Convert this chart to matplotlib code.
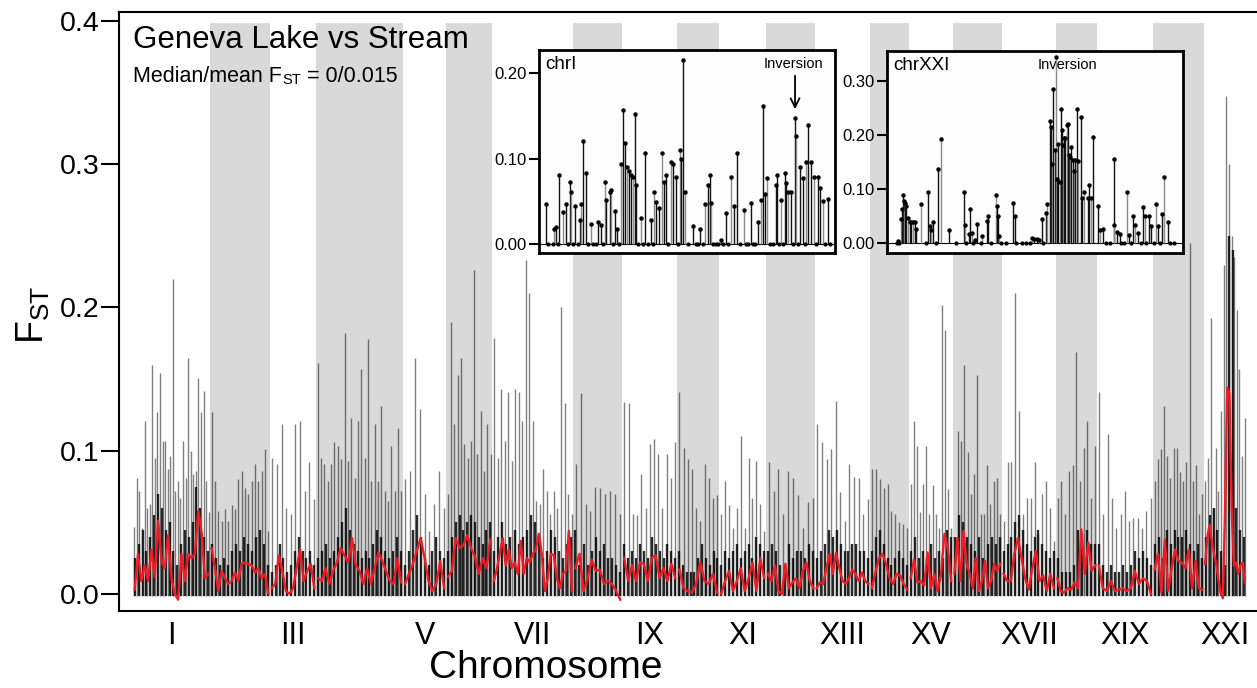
import numpy as np
import matplotlib
matplotlib.use("Agg")
import matplotlib.pyplot as plt

plt.rcParams['font.family'] = ['Liberation Sans', 'DejaVu Sans']

# ---------------- data ----------------
chrom_names = ['I', 'II', 'III', 'IV', 'V', 'VI', 'VII', 'VIII', 'IX', 'X', 'XI',
               'XII', 'XIII', 'XIV', 'XV', 'XVI', 'XVII', 'XVIII', 'XIX', 'XX', 'XXI']
chrom_len_mb = [27.7, 21.6, 16.6, 31.3, 15.5, 16.6, 29.2, 17.6, 19.8, 15.1, 16.9,
                17.6, 19.8, 14.0, 15.8, 17.6, 19.4, 14.8, 20.2, 18.4, 15.1]

# tall SNP spikes per chromosome (FST x 1000), in chromosome order
spikes_I = [47, 81, 72, 46, 121, 60, 63, 160, 95, 127, 154, 107, 107, 87, 96, 220, 72, 79, 67, 107, 81, 165, 100, 84, 86, 151, 127, 142, 79, 57]
spikes_II = [127, 79, 58, 51, 59, 51, 62, 59, 80, 86, 74, 70, 79, 91, 79, 86, 101, 44]
spikes_III = [95, 91, 119, 60, 56, 119, 121, 72, 92, 66]
spikes_IV = [161, 95, 91, 79, 91, 106, 103, 94, 182, 93, 123, 81, 121, 157, 95, 178, 79, 119, 79, 131, 72, 65, 103, 72, 116, 72]
spikes_V = [80, 86, 165, 129, 70, 44, 63, 86, 60]
spikes_VI = [70, 190, 119, 153, 165, 105, 95, 107, 226, 98, 128, 86, 119, 98]
spikes_VII = [179, 95, 143, 107, 141, 93, 143, 141, 121, 233, 210, 121, 65, 63, 87, 72, 56, 72, 60, 200, 133, 70, 56]
spikes_VIII = [91, 140, 63, 58, 75, 74, 70, 72, 70, 56]
spikes_IX = [134, 133, 56, 55, 84, 60, 105, 108, 98, 60, 98, 81, 106]
spikes_X = [141, 102, 94, 87, 60, 51, 91, 81, 67, 69]
spikes_XI = [56, 79, 62, 46, 60, 110, 46, 95, 67, 93, 63, 44]
spikes_XII = [92, 72, 87, 56, 86, 81, 69, 46, 64, 67]
spikes_XIII = [119, 106, 94, 101, 135, 71, 51, 91, 82, 81, 56, 66]
spikes_XIV = [87, 87, 80, 74, 77, 58, 56, 50, 49, 46]
spikes_XV = [77, 121, 103, 57, 77, 103, 56, 76, 56, 46, 202, 184, 73, 46]
spikes_XVI = [32, 114, 107, 160, 99, 70, 84, 153, 56, 56, 90, 63, 79, 81, 56]
spikes_XVII = [51, 92, 92, 210, 128, 56, 67, 67, 92, 42, 70, 79, 60, 37]
spikes_XVIII = [67, 79, 56, 86, 90, 169, 79, 102, 121, 67, 103]
spikes_XIX = [141, 56, 112, 67, 46, 56, 72, 51, 53, 53, 46, 58, 67]
spikes_XX = [79, 94, 101, 131, 96, 81, 102, 102, 85, 79, 92, 245, 79, 90, 56, 70]
spikes_XXI = [79, 95, 193, 60, 102, 72, 128, 230, 348, 300, 250, 235, 198, 157, 96, 123]

# dense low-FST mass per chromosome (FST x 1000)
body_I = [25, 35, 45, 30, 40, 55, 70, 60, 45, 50, 30, 20, 35, 45, 40, 50, 75, 60, 40, 30]
body_II = [35, 25, 20, 25, 20, 30, 35, 30, 40, 35, 30, 40, 45, 35, 20]
body_III = [15, 20, 35, 25, 15, 20, 30, 40, 30, 25, 30, 20]
body_IV = [25, 30, 35, 25, 30, 40, 50, 60, 45, 35, 30, 25, 30, 25, 35, 45, 40, 30, 25, 30, 40, 30]
body_V = [20, 30, 45, 55, 40, 25, 20, 30, 40, 30, 25]
body_VI = [30, 40, 50, 55, 45, 50, 55, 50, 40, 35, 45, 50]
body_VII = [30, 40, 50, 35, 40, 45, 35, 40, 45, 55, 50, 40, 25, 30, 45, 40, 30, 25, 35, 40]
body_VIII = [45, 20, 35, 20, 30, 40, 30, 35, 25, 25, 20, 15]
body_IX = [35, 25, 30, 25, 35, 30, 25, 40, 35, 30, 25, 35, 30, 25]
body_X = [30, 20, 15, 15, 15, 25, 35, 25, 20, 30, 25]
body_XI = [20, 30, 25, 30, 35, 25, 30, 35, 25, 40, 35, 30]
body_XII = [30, 35, 30, 20, 20, 35, 25, 30, 30, 25, 35, 30]
body_XIII = [25, 30, 35, 45, 40, 45, 35, 30, 30, 35, 35, 30, 30, 25]
body_XIV = [30, 40, 45, 35, 25, 20, 25, 30, 25, 20]
body_XV = [30, 40, 25, 30, 25, 35, 25, 30, 25, 45, 40]
body_XVI = [40, 55, 50, 40, 35, 30, 40, 25, 35, 40, 35, 40]
body_XVII = [30, 35, 40, 50, 55, 45, 35, 30, 40, 45, 35, 30, 25, 30]
body_XVIII = [25, 15, 15, 15, 20, 45, 35, 45, 35, 35]
body_XIX = [35, 20, 15, 20, 15, 15, 20, 15, 20, 30, 25, 30, 25, 20]
body_XX = [35, 40, 25, 45, 35, 45, 40, 40, 45, 35, 30, 35, 25]
body_XXI = [40, 55, 60, 45, 30, 20, 250, 240, 60, 45, 40]

# sliding-window mean FST per chromosome (FST x 1000)
mean_I = [3, 28, 9, 20, 9, 31, 12, 51, 23, 18, 41, 11, 0, -4, 28, 9, 28, 25, 28, 58, 43, 11, 14]
mean_II = [32, 18, 2, 16, 11, 7, 9, 15, 9, 21, 22, 21, 20, 15, 18, 11, 14, 0]
mean_III = [4, 7, 27, 16, 2, 0, 4, 18, 31, 9, 16, 21, 4]
mean_IV = [11, 9, 18, 7, 16, 22, 32, 27, 22, 39, 20, 16, 7, 18, 7, 18, 29, 23, 16, 9, 7, 25, 8]
mean_V = [7, 14, 21, 30, 39, 25, 9, 2, 7, 23, 4]
mean_VI = [12, 16, 39, 32, 34, 41, 32, 26, 14, 25, 18, 38]
mean_VII = [9, 17, 28, 39, 20, 31, 18, 22, 14, 37, 14, 25, 22, 28, 31, 42, 28, 2, 11, 28, 27, 11, 4, 14, 16, 44, 2]
mean_VIII = [18, 28, 2, 11, 24, 16, 17, 7, 9, 7, 2, -4]
mean_IX = [25, 9, 20, 9, 22, 21, 9, 25, 27, 11, 18, 9, 21, 11]
mean_X = [17, 4, 2, 1, 7, 22, 9, 7, 14, 1]
mean_XI = [0, 9, 16, 2, 9, 18, 2, 11, 22, 2, 25, 11]
mean_XII = [14, 9, 20, 2, 0, 21, 4, 8, 11, 4, 16, 22, 9, 4]
mean_XIII = [4, 8, 7, 18, 28, 14, 29, 18, 9, 7, 11, 17, 14, 9, 15, 9, 7]
mean_XIV = [4, 15, 25, 28, 21, 11, 7, 14, 13, 7, 3]
mean_XV = [11, 24, 8, 9, 6, 29, 4, 14, 2, 14, 42, 32, 9]
mean_XVI = [14, 39, 9, 44, 21, 14, 4, 25, 2, 9, 23, 4, 9, 21, 16, 21]
mean_XVII = [14, 9, 9, 28, 39, 25, 11, 3, 18, 30, 9, 13, 2, 14, 4]
mean_XVIII = [11, 2, 1, 4, 3, 8, 4, 45, 14, 36, 16, 20]
mean_XIX = [20, 4, 2, 9, 2, 3, 4, 2, 4, 16, 7, 11, 9, 0]
mean_XX = [17, 28, 1, 38, 2, 18, 31, 23, 22, 18, 31, 4, 23, 4, 3]
mean_XXI = [21, 40, 48, 37, 28, 21, 10, 1, -3, 56, 144, 140, 60, 20, 22, 14, 20, 22, 8]

spikes_all = [spikes_I, spikes_II, spikes_III, spikes_IV, spikes_V, spikes_VI, spikes_VII,
              spikes_VIII, spikes_IX, spikes_X, spikes_XI, spikes_XII, spikes_XIII, spikes_XIV,
              spikes_XV, spikes_XVI, spikes_XVII, spikes_XVIII, spikes_XIX, spikes_XX, spikes_XXI]
body_all = [body_I, body_II, body_III, body_IV, body_V, body_VI, body_VII, body_VIII, body_IX,
            body_X, body_XI, body_XII, body_XIII, body_XIV, body_XV, body_XVI, body_XVII,
            body_XVIII, body_XIX, body_XX, body_XXI]
mean_all = [mean_I, mean_II, mean_III, mean_IV, mean_V, mean_VI, mean_VII, mean_VIII, mean_IX,
            mean_X, mean_XI, mean_XII, mean_XIII, mean_XIV, mean_XV, mean_XVI, mean_XVII,
            mean_XVIII, mean_XIX, mean_XX, mean_XXI]

# inset chrI (position Mb, FST x 1000)
chr1_pos = [0.3, 1.1, 1.3, 1.6, 2.0, 2.3, 2.7, 2.8, 3.2, 3.7, 3.8, 4.0, 4.3, 4.8, 5.5, 5.8,
            6.2, 6.3, 6.7, 6.8, 7.2, 7.4, 7.8, 8.0, 8.2, 8.4, 8.6, 8.8, 9.0, 9.2, 9.3, 9.8,
            10.2, 10.8, 11.1, 11.3, 11.6, 11.9, 12.1, 12.3, 12.8, 13.0, 13.3, 13.7, 13.8, 14.0,
            14.2, 15.0, 15.7, 16.2, 16.5, 16.7, 16.8, 17.8, 18.3, 18.8, 19.1, 19.4, 20.1, 20.8,
            21.5, 21.8, 22.0, 22.2, 22.4, 23.3, 23.4, 23.8, 24.2, 24.3, 24.5, 24.8, 25.2, 25.3,
            25.7, 26.0, 26.3, 26.5, 26.8, 27.1, 27.5, 27.7, 28.0, 28.5]
chr1_fst = [47, 18, 20, 81, 38, 47, 72, 61, 45, 28, 47, 120, 83, 24, 26, 22,
            73, 51, 61, 63, 39, 18, 94, 157, 118, 90, 85, 81, 79, 152, 69, 30,
            106, 28, 61, 49, 42, 106, 73, 81, 96, 94, 79, 110, 100, 215,
            61, 21, 17, 47, 69, 81, 48, 5, 36, 79, 44, 106, 40, 48,
            26, 51, 161, 59, 77, 69, 81, 51, 83, 71, 61, 61, 148, 126,
            90, 77, 96, 139, 96, 79, 79, 65, 50, 53]
chr1_zero_pos = [0.5, 1.0, 1.5, 2.5, 3.0, 3.5, 4.5, 5.0, 5.3, 6.0, 7.0, 7.6, 9.5, 10.0, 10.5,
                 11.0, 12.5, 13.5, 14.5, 15.3, 15.5, 16.0, 17.0, 17.3, 17.5, 18.0, 18.5, 19.7,
                 20.3, 20.5, 21.0, 21.2, 22.7, 23.0, 23.6, 24.0, 25.0, 25.5, 26.2, 27.3, 28.2, 28.7]

# inset chrXXI (position Mb, FST x 1000)
chr21_pos = [0.2, 0.31, 0.36, 0.4, 0.44, 0.49, 0.53, 0.6, 0.67, 0.73, 0.8, 0.87, 0.91, 1.11,
             1.4, 1.47, 1.53, 1.6, 1.8, 1.92, 2.24, 2.84, 2.87, 3.04, 3.09, 3.15, 3.27,
             3.37, 3.56, 3.73, 3.77, 4.11, 4.13, 4.17, 4.24, 4.8, 4.87, 5.53, 5.63, 5.73, 5.84,
             5.93, 6.09, 6.16, 6.27, 6.31, 6.36, 6.4, 6.45, 6.51, 6.56, 6.6, 6.65, 6.71, 6.75,
             6.8, 6.84, 6.88, 6.93, 6.97, 7.03, 7.07, 7.12, 7.17, 7.23, 7.27, 7.33, 7.39, 7.51,
             7.56, 7.63, 7.76, 7.83, 7.91, 7.96, 8.17, 8.27, 8.37, 8.8, 8.83, 8.93, 9.04,
             9.33, 9.4, 9.56, 9.67, 9.77, 9.96, 10.04, 10.2, 10.29, 10.48, 10.59, 10.73, 10.83,
             10.96]
chr21_fst = [3, 44, 63, 89, 77, 75, 69, 47, 39, 39, 39, 39, 26, 72,
             94, 31, 25, 39, 138, 192, 24, 94, 33, 16, 64, 19, 6,
             36, 13, 41, 50, 89, 69, 50, 13, 75, 50, 9, 8, 8, 6,
             44, 56, 72, 226, 216, 147, 286, 173, 345, 119, 183, 113, 248, 209,
             181, 195, 194, 219, 220, 163, 159, 178, 153, 134, 153, 248, 152, 233,
             84, 94, 84, 108, 83, 196, 69, 24, 26, 156, 34, 20, 16,
             94, 14, 50, 34, 19, 66, 50, 50, 31, 72, 31, 53, 123,
             39]
chr21_zero_pos = [0.15, 0.25, 1.33, 1.7, 2.5, 2.9, 3.2, 3.5, 3.9, 4.3, 4.5, 4.9, 5.13, 5.3,
                  5.45, 6.0, 8.5, 8.65, 9.1, 9.2, 9.5, 9.9, 10.1, 10.4, 10.65, 11.07, 11.2]

# ---------------- figure ----------------
fig = plt.figure(figsize=(12.57, 6.88), dpi=100)
ax = fig.add_axes([119 / 1257, 1 - 611 / 688, 1138 / 1257, 599 / 688])

starts = np.concatenate([[0.0], np.cumsum(chrom_len_mb)[:-1]])
px_per_mb = 1113 / sum(chrom_len_mb)
x_left = -14 / px_per_mb
x_right = x_left + 1138 / px_per_mb
ax.set_xlim(x_left, x_right)
ax.set_ylim(-0.0119, 0.4063)

band_color = '#d9d9d9'
for i, (s, L) in enumerate(zip(starts, chrom_len_mb)):
    if i % 2 == 1:
        ax.fill_between([s, s + L], -0.0015, 0.3985, color=band_color, lw=0, zorder=0)

for i, (s, L) in enumerate(zip(starts, chrom_len_mb)):
    sp = np.array(spikes_all[i]) / 1000.0
    ps = s + (np.arange(len(sp)) + 0.5) / len(sp) * L
    ax.vlines(ps, -0.0015, sp, colors='#000000', alpha=0.5, lw=1.0, zorder=1)
    b = np.array(body_all[i]) / 1000.0
    pb = s + (np.arange(len(b)) + 0.5) / len(b) * L
    ax.vlines(pb, -0.0015, b, colors='#050505', alpha=0.85, lw=1.7, zorder=2)
    m = np.array(mean_all[i]) / 1000.0
    pm = s + (np.arange(len(m)) + 0.5) / len(m) * L
    ax.plot(pm, m, color='#ee1c24', lw=1.7, zorder=3, solid_joinstyle='round')

ax.set_yticks([0.0, 0.1, 0.2, 0.3, 0.4])
ax.set_yticklabels(['0.0', '0.1', '0.2', '0.3', '0.4'], fontsize=20.5)
ax.tick_params(axis='y', length=13, width=1.5, pad=1)
centers = starts + np.array(chrom_len_mb) / 2
ax.set_xticks(centers[::2])
ax.set_xticklabels(chrom_names[::2], fontsize=22)
ax.tick_params(axis='x', length=0, pad=7)
for sname in ['left', 'bottom', 'top']:
    ax.spines[sname].set_linewidth(1.5)
ax.spines['right'].set_visible(False)

ax.text(0.0123, 0.94, 'Geneva Lake vs Stream', transform=ax.transAxes, fontsize=22.5,
        va='baseline', ha='left', zorder=5)
t1 = ax.text(0.0123, 0.883, 'Median/mean F', transform=ax.transAxes, fontsize=15.5,
             va='baseline', ha='left', zorder=5)
t2 = ax.annotate('ST', xy=(1, 0), xycoords=t1, fontsize=10.5, va='bottom', ha='left', zorder=5)
ax.annotate(' = 0/0.015', xy=(1, 0), xycoords=t2, fontsize=15.5, va='bottom', ha='left',
            zorder=5)

fig.text(546 / 1257, 1 - 678 / 688, 'Chromosome', fontsize=28, ha='center', va='baseline')
fig.text(33 / 1257, 1 - 315 / 688, r'F$_{\mathregular{ST}}$', fontsize=27, rotation=90,
         ha='center', va='center')

# ---------------- insets ----------------
def draw_inset(rect, pos, fst, zero_pos, xlim, ylim, yticks, yticklabels, name, inv_xy, arrow):
    ia = fig.add_axes(rect)
    ia.set_facecolor('#fdfdfd')
    f = np.array(fst) / 1000.0
    p = np.array(pos)
    cols = ['#111111' if k % 3 != 1 else '#8c8c8c' for k in range(len(f))]
    ia.vlines(p, 0, f, colors=cols, lw=1.0, zorder=2)
    ia.plot(p, f, 'o', ms=2.2, color='#000000', zorder=3)
    ia.plot(zero_pos, np.zeros(len(zero_pos)), 'o', ms=2.0, color='#000000', zorder=3)
    ia.axhline(0, color='#000000', lw=0.8, zorder=1)
    ia.set_xlim(*xlim)
    ia.set_ylim(*ylim)
    ia.set_xticks([])
    ia.set_yticks(yticks)
    ia.set_yticklabels(yticklabels, fontsize=12)
    ia.tick_params(axis='y', length=7, width=1.5, pad=2)
    for spn in ia.spines.values():
        spn.set_linewidth(2.0)
    ia.text(0.02, 0.93, name, transform=ia.transAxes, fontsize=13.5, va='center', ha='left')
    ia.text(inv_xy[0], inv_xy[1], 'Inversion', transform=ia.transAxes, fontsize=10.5,
            va='center', ha='center', zorder=1)
    if arrow:
        ia.annotate('', xy=(0.865, 0.695), xytext=(0.865, 0.887), xycoords='axes fraction',
                    arrowprops=dict(arrowstyle='->', lw=1.3, color='black',
                                    mutation_scale=16))
    return ia

draw_inset([539 / 1257, 1 - 253 / 688, 296 / 1257, 203 / 688], chr1_pos, chr1_fst,
           chr1_zero_pos, (-0.43, 29.2), (-0.0105, 0.227), [0.0, 0.1, 0.2],
           ['0.00', '0.10', '0.20'], 'chrI', (0.858, 0.931), True)
draw_inset([887 / 1257, 1 - 253 / 688, 296 / 1257, 202 / 688], chr21_pos, chr21_fst,
           chr21_zero_pos, (-0.24, 11.57), (-0.0185, 0.356), [0.0, 0.1, 0.2, 0.3],
           ['0.00', '0.10', '0.20', '0.30'], 'chrXXI', (0.611, 0.931), False)

fig.savefig('out.png', dpi=100)
